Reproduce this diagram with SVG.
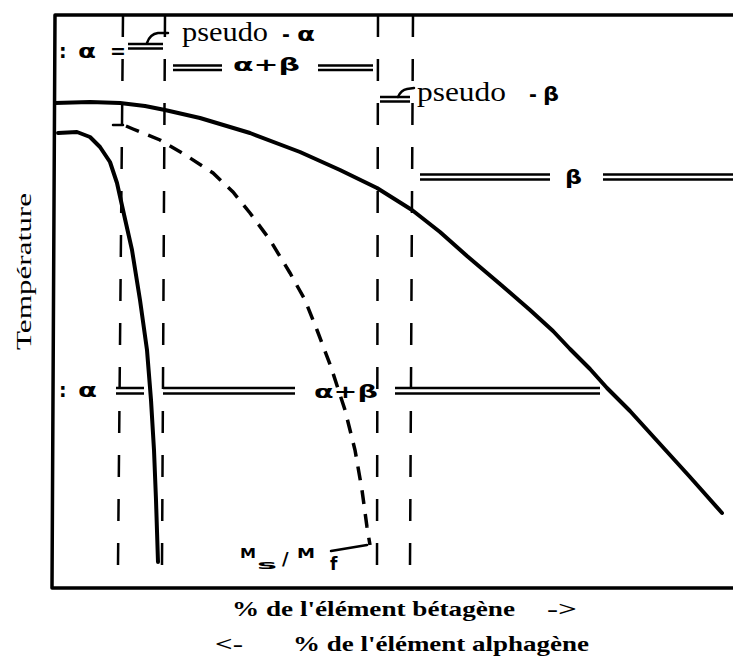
<svg xmlns="http://www.w3.org/2000/svg" width="733" height="664" viewBox="0 0 733 664">
<style>
.frame{fill:none;stroke:#000;stroke-width:3.5;stroke-linecap:round;stroke-linejoin:round}
.curve{fill:none;stroke:#000;stroke-width:4;stroke-linejoin:round;stroke-linecap:round}
.dcurve{fill:none;stroke:#000;stroke-width:3.5;stroke-dasharray:14 10}
.vdash{fill:none;stroke:#000;stroke-width:2.5;stroke-dasharray:22 22}
.dbl{stroke:#000;stroke-width:2.3;fill:none}
.hook{stroke:#000;stroke-width:2.5;fill:none;stroke-linecap:round}
.sym{font-family:"DejaVu Sans",sans-serif;font-weight:bold;fill:#000}
.ser{font-family:"Liberation Serif","DejaVu Serif",serif;fill:#000}
.bold{font-weight:bold}
</style>
<rect width="733" height="664" fill="#fff"/>
<g id="frame">
<path class="frame" d="M733,15 L55,15 L52,588 L733,588"/>
</g>
<g id="curves">
<polyline id="beta-transus" class="curve" points="55,103 90,102 120,103 145,106 165,110 200,118 250,133 300,152 340,170 377,188 412,210 440,232 467,256 500,284 530,310 553,331 570,349 590,369 607,388 630,411 650,433 690,477 722,513"/>
<polyline id="ms-alpha" class="curve" points="58,133 77,132 90,137 100,147 110,162 117,183 123,210 132,250 140,300 147,350 151,400 154,450 156,500 158,562"/>
<polyline id="ms-mf" class="dcurve" points="126,126 133,129 160,140 187,156 213,173 233,192 250,213 270,240 290,273 305,300 317,330 331,367 345,410 355,450 362,490 367,527 370,545"/>
<path class="hook" d="M113,125 L123,125"/>
</g>
<g id="connectors">
<line class="vdash" x1="123" y1="15" x2="118" y2="565"/>
<line class="vdash" x1="165" y1="15" x2="162" y2="565"/>
<line class="vdash" x1="378" y1="15" x2="377" y2="565"/>
<line class="vdash" x1="413" y1="15" x2="410" y2="565"/>
</g>
<g id="double-lines">
<path class="dbl" d="M128,44 H163 M128,48.5 H163"/>
<path class="hook" d="M147,43 Q150,34 158,33 L168,33"/>
<path class="dbl" d="M173,65.5 H222 M173,70 H222 M318,65.5 H373 M318,70 H373"/>
<path class="dbl" d="M380,97 H410 M380,101.5 H410"/>
<path class="hook" d="M398,97 Q401,90 407,89 L414,88"/>
<path class="dbl" d="M420,174.5 H550 M420,179.5 H550 M603,174.5 H733 M603,179.5 H733"/>
<path class="dbl" d="M116,388 H144 M116,393.5 H144 M163,388 H295 M163,393.5 H295 M395,388 H600 M395,393.5 H600"/>
</g>
<g id="labels">
<text class="sym" y="58" font-size="19"><tspan x="59">:</tspan><tspan x="78" textLength="18" lengthAdjust="spacingAndGlyphs">α</tspan><tspan x="110">=</tspan></text>
<text class="ser" y="41" font-size="27"><tspan x="182" textLength="86" lengthAdjust="spacingAndGlyphs">pseudo</tspan> <tspan class="sym" x="282" font-size="19">-</tspan> <tspan class="sym" x="297" font-size="19" textLength="18" lengthAdjust="spacingAndGlyphs">α</tspan></text>
<text class="sym" x="233" y="71" font-size="18" textLength="67" lengthAdjust="spacingAndGlyphs">α+β</text>
<text class="ser" y="101" font-size="27"><tspan x="417" textLength="89" lengthAdjust="spacingAndGlyphs">pseudo</tspan> <tspan class="sym" x="529" font-size="19">-</tspan> <tspan class="sym" x="543" font-size="19" textLength="16" lengthAdjust="spacingAndGlyphs">β</tspan></text>
<text class="sym" x="565" y="184" font-size="19" textLength="17" lengthAdjust="spacingAndGlyphs">β</text>
<text class="sym" y="397" font-size="19"><tspan x="59">:</tspan><tspan x="78" textLength="19" lengthAdjust="spacingAndGlyphs">α</tspan></text>
<text class="sym" x="314" y="398" font-size="18" textLength="64" lengthAdjust="spacingAndGlyphs">α+β</text>
<text class="sym"><tspan x="240" y="558" font-size="14" textLength="16" lengthAdjust="spacingAndGlyphs">M</tspan><tspan x="257" y="569" font-size="13" textLength="20" lengthAdjust="spacingAndGlyphs">s</tspan><tspan x="282" y="565" font-size="18">/</tspan><tspan x="297" y="558" font-size="14" textLength="18" lengthAdjust="spacingAndGlyphs">M</tspan><tspan x="330" y="570" font-size="17">f</tspan></text>
<path class="hook" d="M331,551 L367,545"/>
<text class="ser" transform="translate(31,350) rotate(-90)" font-size="21" textLength="157" lengthAdjust="spacingAndGlyphs">Température</text>
<text class="ser bold" y="616" font-size="22"><tspan x="232" textLength="283" lengthAdjust="spacingAndGlyphs">% de l'élément bétagène</tspan> <tspan x="547" textLength="30" lengthAdjust="spacingAndGlyphs">-&gt;</tspan></text>
<text class="ser bold" y="651" font-size="22"><tspan x="215" textLength="28" lengthAdjust="spacingAndGlyphs">&lt;-</tspan> <tspan x="293" textLength="296" lengthAdjust="spacingAndGlyphs">% de l'élément alphagène</tspan></text>
</g>
</svg>
